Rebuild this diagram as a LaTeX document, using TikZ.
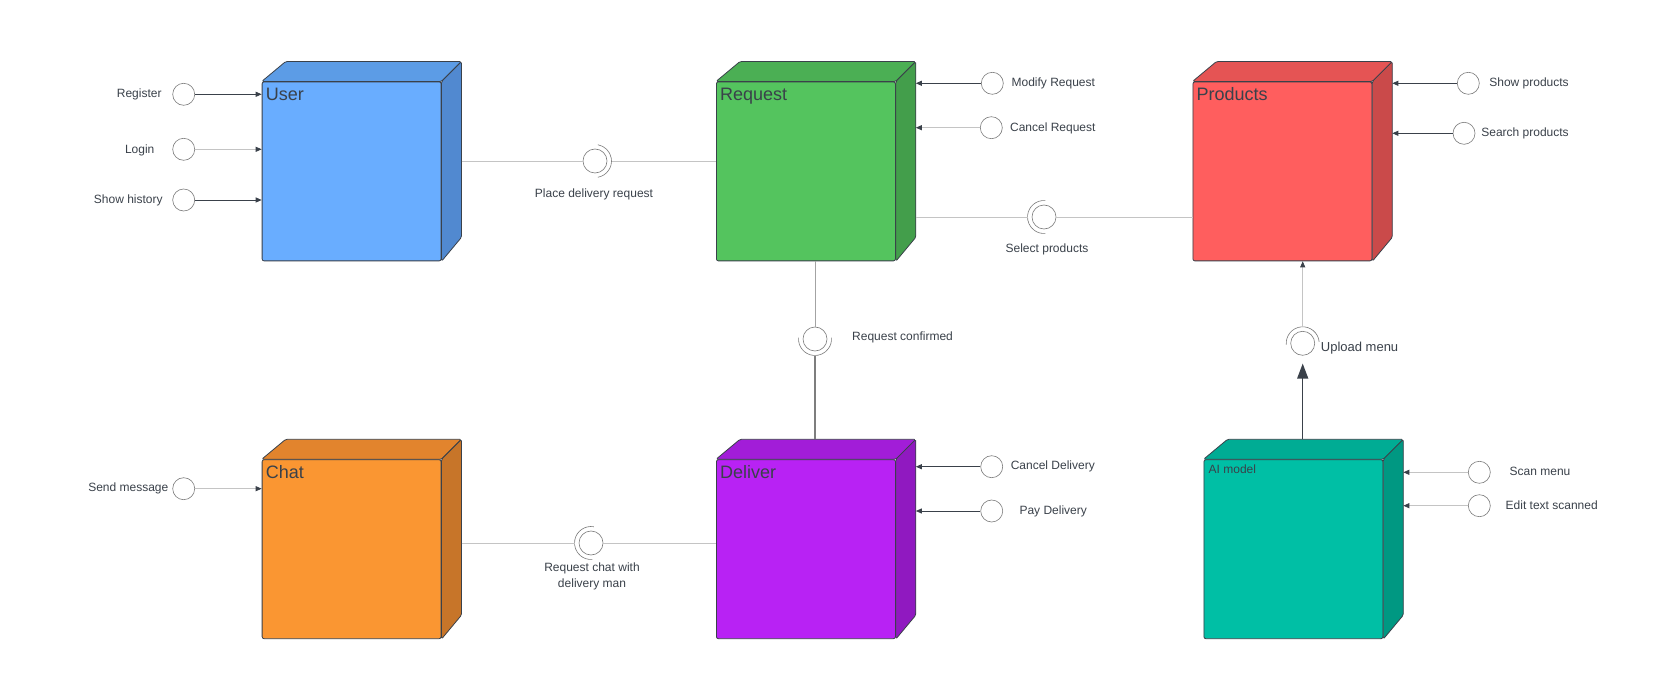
\documentclass[tikz,border=0pt]{standalone}
\usepackage{fontspec}
\setmainfont{Liberation Sans}
\usetikzlibrary{arrows.meta}

\definecolor{ink}{HTML}{3A414A}
\definecolor{wireLight}{HTML}{C4C4C4}
\definecolor{wireMid}{HTML}{A3A3A3}
\definecolor{wireDark}{HTML}{7E7E7E}
\definecolor{ringGray}{HTML}{7A7A7A}
% front, top and side faces of the boxes
\definecolor{userF}{HTML}{69ADFF}\definecolor{userT}{HTML}{5C9CE6}\definecolor{userS}{HTML}{5189D0}
\definecolor{reqF}{HTML}{54C45E}\definecolor{reqT}{HTML}{4BAF54}\definecolor{reqS}{HTML}{439E4B}
\definecolor{prodF}{HTML}{FF5E5E}\definecolor{prodT}{HTML}{E55454}\definecolor{prodS}{HTML}{CA4A4A}
\definecolor{chatF}{HTML}{FA9632}\definecolor{chatT}{HTML}{E2842D}\definecolor{chatS}{HTML}{C77529}
\definecolor{delF}{HTML}{B822F4}\definecolor{delT}{HTML}{A21DD8}\definecolor{delS}{HTML}{9019C0}
\definecolor{aiF}{HTML}{00BFA5}\definecolor{aiT}{HTML}{00AC94}\definecolor{aiS}{HTML}{009882}

\newcommand*{\lblFont}{\fontsize{12}{15}\selectfont}
\newcommand*{\titleFont}{\fontsize{18}{21}\selectfont}

\tikzset{
    compfront/.style={draw=ink, line width=0.8pt, rounded corners=2pt, minimum width=179pt, minimum height=179pt, inner sep=0pt, anchor=north west},
    compface/.style={draw=ink, line width=0.8pt, rounded corners=1.5pt, line join=round},
    titleBig/.style={anchor=west, inner sep=0pt, text=ink, font=\titleFont, text height=13pt, text depth=0pt},
    titleSmall/.style={anchor=west, inner sep=0pt, text=ink, font=\lblFont, text height=8.6pt, text depth=0pt, xshift=1pt, yshift=2.5pt},
    iface/.style={circle, draw=ringGray, line width=0.6pt, fill=white, minimum size=22pt, inner sep=0pt},
    ball/.style={circle, draw=ringGray, line width=0.6pt, fill=white, minimum size=24pt, inner sep=0pt},
    sockarc/.style={draw=ringGray, line width=0.6pt},
    lbl/.style={inner sep=0pt, text=ink, font=\lblFont, text height=8.6pt, text depth=0pt},
    lbl2/.style={inner sep=0pt, text=ink, font=\fontsize{12}{16}\selectfont, align=center},
    tipS/.style={-{Triangle[length=6pt, width=5pt, color=ink]}},
    inDark/.style={draw=ink, line width=0.9pt, tipS},
    inLight/.style={draw=wireLight, line width=0.8pt, tipS},
    wire/.style={draw=wireLight, line width=0.8pt},
    wireMidStyle/.style={draw=wireMid, line width=0.9pt},
    wireDarkStyle/.style={draw=wireDark, line width=1.1pt},
    upArrow/.style={draw=ink, line width=1.3pt, -{Triangle[length=15pt, width=11pt]}},
}

\newcommand*{\component}[8]{% name, x, y, front colour, top colour, side colour, title, title style
    \node[compfront, fill=#4] (#1) at (#2,#3) {};
    \draw[compface, fill=#5] (#1.north west) -- ([shift={(24,-20)}]#1.north west) -- ([shift={(20,-20)}]#1.north east) -- (#1.north east) -- cycle;
    \draw[compface, fill=#6] (#1.north east) -- ([shift={(20,-20)}]#1.north east) -- ([shift={(20,-24)}]#1.south east) -- (#1.south east) -- cycle;
    \coordinate (#1-e) at ([xshift=20pt]#1.east);
    \coordinate (#1-n) at ([yshift=20pt]#1.north);
    \node[#8] (#1-t) at ([shift={(4,12.5)}]#1.north west) {#7};
}
\newcommand*{\iface}[6]{% name, x, y, label x, label y, label
    \node[iface] (#1) at (#2,#3) {};
    \node[lbl] (#1-l) at (#4,#5) {#6};
}
\newcommand*{\socket}[5]{% name, x, y, arc start angle, arc sweep
    \node[ball] (#1) at (#2,#3) {};
    \draw[sockarc] ([shift={(#4:16.5pt)}]#1.center) arc[start angle=#4, delta angle=#5, radius=16.5pt];
}

\begin{document}
\begin{tikzpicture}[x=1pt, y=-1pt] {
\fill[white] (0,0) rectangle (1680,700);
\useasboundingbox (0,0) rectangle (1680,700);
\component{user}{261.7}{81.5}{userF}{userT}{userS}{User}{titleBig}
\component{request}{716}{81.5}{reqF}{reqT}{reqS}{Request}{titleBig}
\component{products}{1192.5}{81.5}{prodF}{prodT}{prodS}{Products}{titleBig}
\component{chat}{261.7}{459.3}{chatF}{chatT}{chatS}{Chat}{titleBig}
\component{deliver}{716}{459.3}{delF}{delT}{delS}{Deliver}{titleBig}
\component{aimodel}{1203.5}{459.3}{aiF}{aiT}{aiS}{AI model}{titleSmall}
\iface{register}{183.7}{94.3}{139.2}{93}{Register}
\iface{login}{183.7}{149.3}{139.7}{149}{Login}
\iface{history}{183.7}{200}{128.3}{199}{Show history}
\iface{sendmsg}{183.7}{488.7}{128.3}{487.5}{Send message}
\iface{modify}{992.3}{83.3}{1053.3}{82.5}{Modify Request}
\iface{cancelreq}{991.3}{127.7}{1052.8}{127}{Cancel Request}
\iface{showprod}{1468.3}{83.3}{1529}{82.5}{Show products}
\iface{searchprod}{1464}{133.3}{1525}{132.5}{Search products}
\iface{canceldel}{991.7}{466.7}{1052.8}{465.5}{Cancel Delivery}
\iface{paydel}{991.7}{511}{1053.2}{510}{Pay Delivery}
\iface{scan}{1479.3}{472.3}{1540}{471}{Scan menu}
\iface{edittext}{1479.3}{505.7}{1551.7}{504.7}{Edit text scanned}
\foreach \src/\dst/\sty in {register/user.west/inDark, login/user.west/inLight, history/user.west/inDark,
        sendmsg/chat.west/inLight, modify/request-e/inDark, cancelreq/request-e/inLight,
        showprod/products-e/inDark, searchprod/products-e/inDark, canceldel/deliver-e/inDark,
        paydel/deliver-e/inDark, scan/aimodel-e/inLight, edittext/aimodel-e/inLight}
    \draw[\sty] (\src) -- (\src -| \dst);
\socket{placereq}{595}{161}{-80}{160}
\socket{selprod}{1044}{217}{85}{190}
\socket{reqconf}{815}{339}{175}{190}
\socket{reqchat}{591}{543}{80}{195}
\socket{upload}{1302.7}{343.3}{5}{180}
\node[lbl] (placereq-l) at (594,193) {Place delivery request};
\node[lbl] (selprod-l) at (1047,248) {Select products};
\node[lbl, anchor=west] (reqconf-l) at (852,336) {Request confirmed};
\node[lbl2, anchor=north] (reqchat-l) at (592,563) {Request chat with\\delivery man};
\node[lbl, anchor=west, font=\fontsize{13}{15}\selectfont, text height=9.3pt] (upload-l) at (1320.7,346.7) {Upload menu};
\draw[wire] (user-e |- placereq) -- (placereq.west);
\draw[wire] ([xshift=16.5pt]placereq.center) -- (placereq -| request.west);
\draw[wire] (request-e |- selprod) -- ([xshift=-16.5pt]selprod.center);
\draw[wire] (selprod.east) -- (selprod -| products.west);
\draw[wireMidStyle] (reqconf |- request.south) -- (reqconf.north);
\draw[wireDarkStyle] ([yshift=-16.5pt]reqconf.center) -- (reqconf |- deliver-n);
\draw[wire] (chat-e |- reqchat) -- ([xshift=-16.5pt]reqchat.center);
\draw[wire] (reqchat.east) -- (reqchat -| deliver.west);
\draw[upArrow] (upload |- aimodel-n) -- ([yshift=-8pt]upload.south);
\draw[wire, tipS] ([yshift=16.5pt]upload.center) -- (upload |- products.south);
}\end{tikzpicture}
\end{document}
